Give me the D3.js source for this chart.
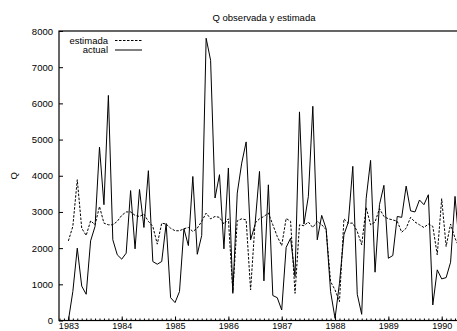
<!DOCTYPE html>
<html>
<head>
<meta charset="utf-8">
<script src="https://cdn.jsdelivr.net/npm/d3@7/dist/d3.min.js"></script>
<style>
  html, body { margin: 0; padding: 0; background: #fff; }
  svg { display: block; }
  text { font-family: "Liberation Sans", Arial, Helvetica, sans-serif; fill: #000; }
</style>
</head>
<body>
<svg id="chart" width="457" height="331"></svg>
<script>
// ---- data (monthly, starting January 1983) ----
const startYear = 1983;
const yearTicks = [1983, 1984, 1985, 1986, 1987, 1988, 1989, 1990];
const yTicks = [0, 1000, 2000, 3000, 4000, 5000, 6000, 7000, 8000];
const seriesNames = ["estimada", "actual"];
const actual = [
  0, 800, 2000, 950, 725, 2200, 2600, 4790, 3200, 6220, 2230, 1815,
  1695, 1860, 3590, 1980, 3620, 2570, 4140, 1630, 1555, 1630, 2680, 630,
  495, 800, 2535, 2070, 3980, 1830, 2350, 7800, 7190, 3385, 4030, 1980,
  4215, 750, 3520, 4350, 4935, 2230, 2645, 4120, 1095, 3750, 690, 630,
  290, 2020, 2275, 1215, 5765, 2665, 3430, 5920, 2230, 2905, 2535, 800,
  60, 1030, 2370, 2720, 4260, 725, 170, 3365, 4425, 1335, 3200, 3735,
  1720, 1795, 2875, 2850, 3715, 3030, 3000, 3330, 3200, 3475, 430, 1400,
  1150, 1185, 1610, 3430, 2000
];
const estimada = [
  2200, 2600, 3890, 2550, 2350, 2755, 2645, 3150, 2690, 2645, 2645, 2740,
  2905, 3000, 3000, 2905, 2875, 2940, 2740, 2600, 2110, 2690, 2665, 2550,
  2480, 2480, 2535, 2570, 2460, 2550, 2740, 2970, 2810, 2875, 2850, 2665,
  2810, 800, 2755, 2810, 2780, 845, 2690, 2810, 2875, 2970, 2645, 2320,
  2070, 2820, 2740, 750, 2645, 2620, 2720, 2570, 2740, 2645, 2510, 1075,
  845, 520, 2810, 2690, 2690, 2460, 2090, 3125, 2645, 2720, 3090, 2875,
  2810, 2780, 2740, 2440, 2550, 2850, 2720, 2645, 2570, 2665, 2600, 1815,
  3365, 2045, 2665, 2275, 2000
];

// ---- layout ----
const svg = d3.select("#chart");
const mLeft = 59, mRight = 469, mTop = 31, mBottom = 320.5;
const xMin = 1982.824, xMax = 1990.512;

const x = d3.scaleLinear().domain([xMin, xMax]).range([mLeft, mRight]);
const y = d3.scaleLinear().domain([0, 8000]).range([mBottom, mTop]);

const xOf = (d, i) => x(startYear + i / 12);

// clip
svg.append("defs").append("clipPath").attr("id", "clip")
  .append("rect").attr("x", mLeft).attr("y", mTop).attr("width", mRight - mLeft).attr("height", mBottom - mTop);

// title
svg.append("text").attr("x", (mLeft + mRight) / 2).attr("y", 21)
  .attr("text-anchor", "middle").style("font-size", "9.5px")
  .text("Q observada y estimada");

// y label
svg.append("text").attr("transform", `translate(17,${(mTop + mBottom) / 2}) rotate(-90)`)
  .attr("text-anchor", "middle").style("font-size", "9.5px").text("Q");

// y axis
const yAxis = svg.append("g").attr("transform", `translate(${mLeft},0)`)
  .call(d3.axisLeft(y).tickValues(yTicks).tickFormat(d3.format("d")).tickSize(-4).tickPadding(6));
yAxis.select(".domain").remove();
yAxis.selectAll("line").attr("stroke", "#000");
yAxis.selectAll("text").style("font-size", "9.5px").attr("font-family", null);

// x axis minor (monthly) ticks
const months = d3.range(0, 100).map(k => 1982 + 10 / 12 + k / 12)
  .filter(v => v >= xMin && v <= xMax);
const xMinor = svg.append("g").attr("transform", `translate(0,${mBottom})`)
  .call(d3.axisBottom(x).tickValues(months).tickSize(-2).tickFormat(""));
xMinor.select(".domain").remove();
xMinor.selectAll("line").attr("stroke", "#000");

// x axis major
const xAxis = svg.append("g").attr("transform", `translate(0,${mBottom})`)
  .call(d3.axisBottom(x).tickValues(yearTicks).tickFormat(d3.format("d")).tickSize(-4).tickPadding(2.5));
xAxis.select(".domain").remove();
xAxis.selectAll("line").attr("stroke", "#000");
xAxis.selectAll("text").style("font-size", "9px").attr("font-family", null);

// lines
const line = d3.line().x(xOf).y(d => y(d));
const plot = svg.append("g").attr("clip-path", "url(#clip)");
plot.append("path").datum(estimada).attr("d", line)
  .attr("fill", "none").attr("stroke", "#000").attr("stroke-width", 1)
  .attr("stroke-dasharray", "2.5,1.5");
plot.append("path").datum(actual).attr("d", line)
  .attr("fill", "none").attr("stroke", "#000").attr("stroke-width", 1);

// border
svg.append("rect").attr("x", mLeft).attr("y", mTop).attr("width", mRight - mLeft).attr("height", mBottom - mTop)
  .attr("fill", "none").attr("stroke", "#000").attr("stroke-width", 1.2);

// legend
const legend = svg.append("g");
const legY = [40.5, 50];
seriesNames.forEach((name, k) => {
  legend.append("text").attr("x", 108).attr("y", legY[k]).attr("dy", "0.35em")
    .attr("text-anchor", "end").style("font-size", "9.5px").text(name);
  legend.append("line").attr("x1", 115).attr("x2", 142).attr("y1", legY[k]).attr("y2", legY[k])
    .attr("stroke", "#000").attr("stroke-width", 1)
    .attr("stroke-dasharray", k === 0 ? "2.5,1.5" : null);
});
</script>
</body>
</html>
